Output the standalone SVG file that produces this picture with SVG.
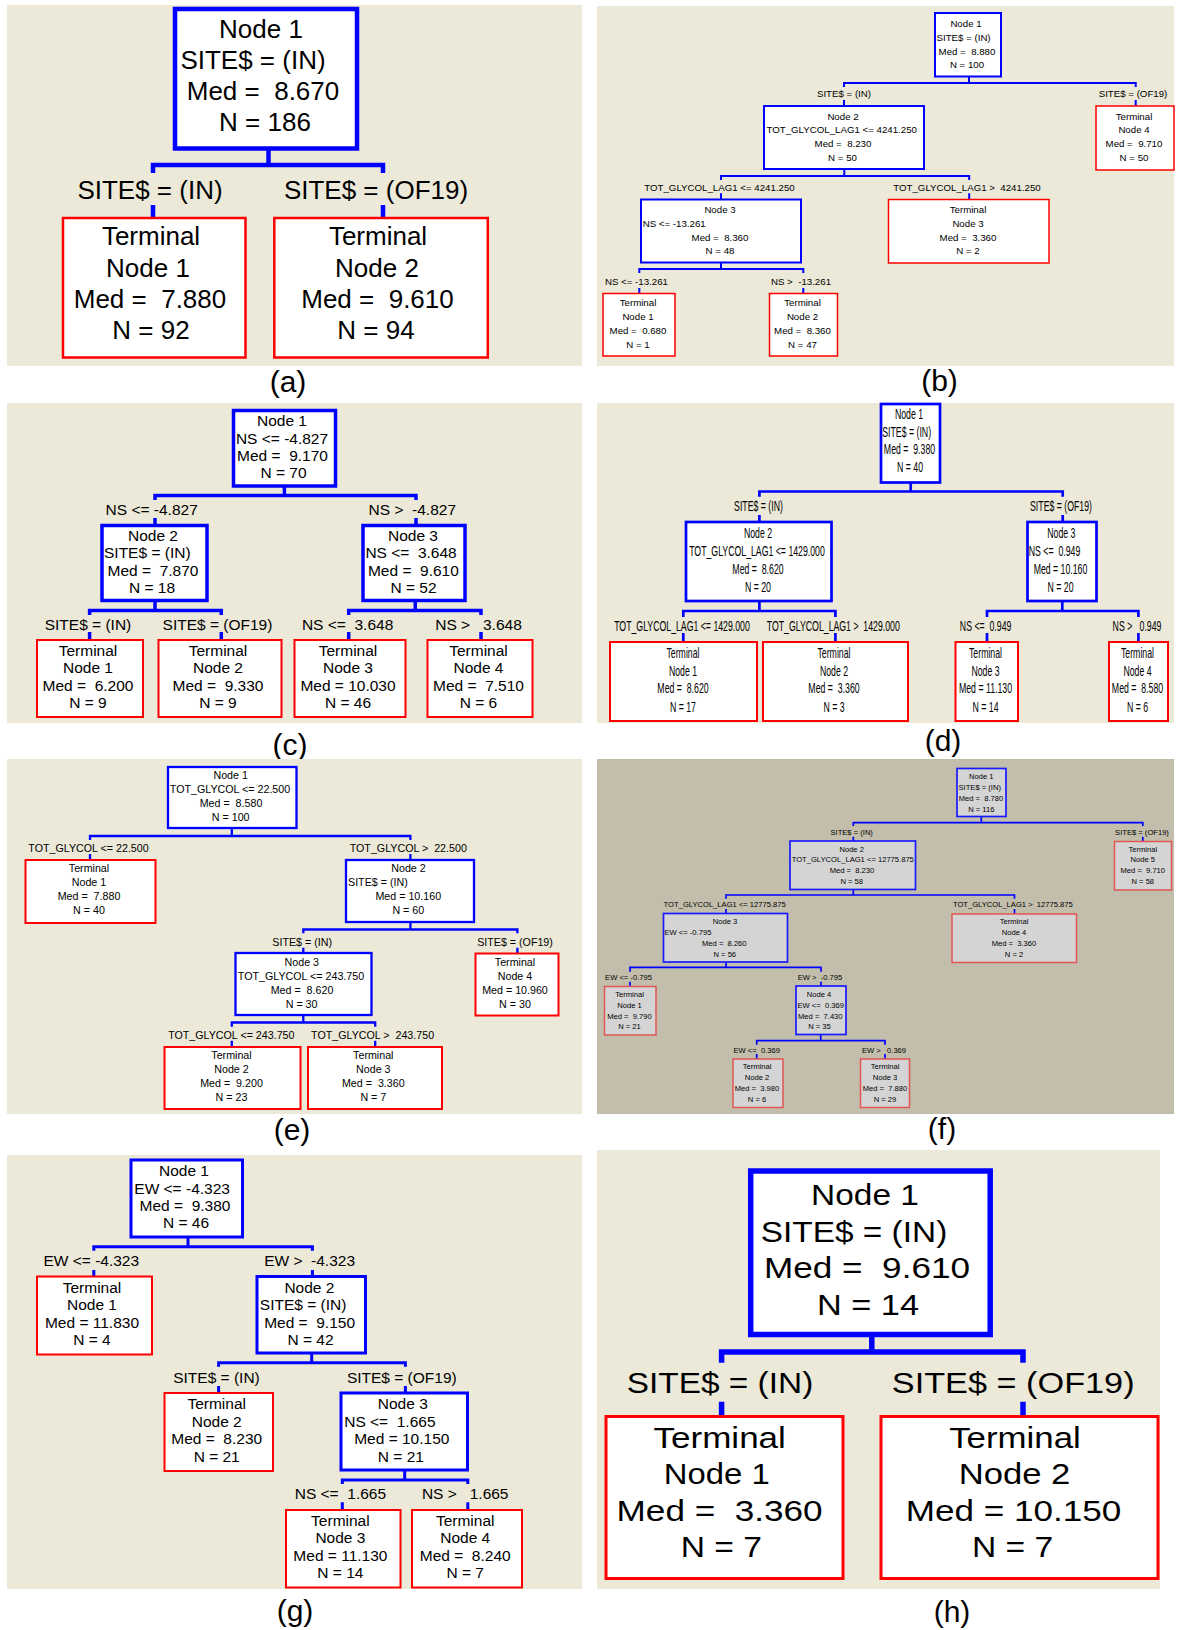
<svg xmlns="http://www.w3.org/2000/svg" width="1177" height="1630" viewBox="0 0 1177 1630" xml:space="preserve">
<style>
text{font-family:"Liberation Sans",Arial,sans-serif;fill:#000;white-space:pre}
.m{text-anchor:middle}
.bg{fill:#ece9d8}
.bgf{fill:#c2beab}
.n{fill:#fff;stroke:#0000ff}
.t{fill:#fff;stroke:#ff0000}
.nf{fill:#d4d4d4;stroke:#1a1aff;stroke-width:1.7}
.tf{fill:#d4d4d4;stroke:#e25555;stroke-width:1.5}
.c{fill:none;stroke:#0000ff}
.cap{font-size:30px;text-anchor:middle}
.fa{font-size:26px}.fb{font-size:9.7px}.fc{font-size:15.5px}.fd{font-size:14px}.fe{font-size:10.7px}.ff{font-size:7.6px}.fg{font-size:15.5px}.fh{font-size:29px}
</style>
<rect width="1177" height="1630" fill="#fff"/>

<!-- ===== Panel (a) ===== -->
<g id="panel-a" class="fa">
<rect class="bg" x="7" y="5" width="575" height="361"/>
<g id="a-connectors">
<path class="c" stroke-width="4.5" d="M268.5 150 V165 M153 173 V165 H383 V173 M153 205 V217 M383 205 V217"/>
<text class="m" x="150" y="199">SITE$ = (IN)</text>
<text class="m" x="376" y="199">SITE$ = (OF19)</text>
</g>
<g id="a-node1"><rect class="n" stroke-width="4.5" x="175" y="9" width="182" height="139.5"/>
<text class="m" x="261" y="37.5">Node 1</text><text class="m" x="253" y="69">SITE$ = (IN)</text><text class="m" x="263" y="100">Med =  8.670</text><text class="m" x="265" y="131">N = 186</text></g>
<g id="a-term1"><rect class="t" stroke-width="2.5" x="63" y="218" width="182.5" height="139.5"/>
<text class="m" x="151" y="245">Terminal</text><text class="m" x="148" y="276.5">Node 1</text><text class="m" x="150" y="307.5">Med =  7.880</text><text class="m" x="151" y="338.5">N = 92</text></g>
<g id="a-term2"><rect class="t" stroke-width="2.5" x="274.3" y="218" width="213.5" height="139.5"/>
<text class="m" x="378" y="245">Terminal</text><text class="m" x="377" y="276.5">Node 2</text><text class="m" x="377.5" y="307.5">Med =  9.610</text><text class="m" x="376" y="338.5">N = 94</text></g>
<text class="cap" x="288" y="392">(a)</text>
</g>

<!-- ===== Panel (b) ===== -->
<g id="panel-b" class="fb">
<rect class="bg" x="597" y="6" width="577" height="360"/>
<g id="b-connectors">
<path class="c" stroke-width="2" d="M969 77 V83 M844 87 V83 H1135.7 V87 M844 100 V106 M1135.7 100 V106 M844.3 169 V176 M721 180 V176 H969.2 V180 M721 193.3 V199.5 M969.2 193.3 V199.5 M721 262.7 V269 M639.3 273 V269 H803.3 V273 M639.3 288 V293.5 M803.3 288 V293.5"/>
<text class="m" x="844" y="96.5">SITE$ = (IN)</text>
<text class="m" x="1133" y="96.5">SITE$ = (OF19)</text>
<text class="m" x="719.5" y="191">TOT_GLYCOL_LAG1 &lt;= 4241.250</text>
<text class="m" x="967" y="191">TOT_GLYCOL_LAG1 &gt;  4241.250</text>
<text class="m" x="636.4" y="284.5">NS &lt;= -13.261</text>
<text class="m" x="801" y="284.5">NS &gt;  -13.261</text>
</g>
<g id="b-node1"><rect class="n" stroke-width="2" x="935" y="13" width="66" height="63.5"/>
<text class="m" x="966" y="26.5">Node 1</text><text x="936.5" y="40.5">SITE$ = (IN)</text><text class="m" x="967" y="54.5">Med =  8.880</text><text class="m" x="967" y="68">N = 100</text></g>
<g id="b-node2"><rect class="n" stroke-width="2" x="764" y="106" width="160" height="63"/>
<text class="m" x="843" y="119.5">Node 2</text><text x="766.5" y="133">TOT_GLYCOL_LAG1 &lt;= 4241.250</text><text class="m" x="843" y="147">Med =  8.230</text><text class="m" x="842.5" y="160.5">N = 50</text></g>
<g id="b-term4"><rect class="t" stroke-width="1.5" x="1096" y="106" width="78" height="64"/>
<text class="m" x="1134" y="119.5">Terminal</text><text class="m" x="1134" y="133">Node 4</text><text class="m" x="1134" y="147">Med =  9.710</text><text class="m" x="1134" y="160.5">N = 50</text></g>
<g id="b-node3"><rect class="n" stroke-width="2" x="641" y="199.5" width="160" height="63"/>
<text class="m" x="720" y="212.5">Node 3</text><text x="642.7" y="226.5">NS &lt;= -13.261</text><text class="m" x="720" y="240.5">Med =  8.360</text><text class="m" x="720" y="254">N = 48</text></g>
<g id="b-term3"><rect class="t" stroke-width="1.5" x="888.5" y="199.5" width="160.5" height="63.5"/>
<text class="m" x="968" y="212.5">Terminal</text><text class="m" x="968" y="226.5">Node 3</text><text class="m" x="968" y="240.5">Med =  3.360</text><text class="m" x="968" y="254">N = 2</text></g>
<g id="b-term1"><rect class="t" stroke-width="1.5" x="603" y="293.5" width="72" height="62.5"/>
<text class="m" x="638" y="305.5">Terminal</text><text class="m" x="638" y="319.5">Node 1</text><text class="m" x="638" y="333.5">Med =  0.680</text><text class="m" x="638" y="347.5">N = 1</text></g>
<g id="b-term2"><rect class="t" stroke-width="1.5" x="769.5" y="293.5" width="68" height="62.5"/>
<text class="m" x="802.5" y="305.5">Terminal</text><text class="m" x="802.5" y="319.5">Node 2</text><text class="m" x="802.5" y="333.5">Med =  8.360</text><text class="m" x="802.5" y="347.5">N = 47</text></g>
<text class="cap" x="939.5" y="391">(b)</text>
</g>

<!-- ===== Panel (c) ===== -->
<g id="panel-c" class="fc">
<rect class="bg" x="7" y="403" width="575" height="320"/>
<g id="c-connectors">
<path class="c" stroke-width="3.5" d="M284.4 487 V495.5 M155 500 V495.5 H416 V500 M155 518 V524 M416 518 V524 M155 602 V610.5 M89.6 615 V610.5 H221.3 V615 M89.6 632 V640 M221.3 632 V640 M415.3 602 V610.5 M348.7 615 V610.5 H481 V615 M348.7 632 V640 M481 632 V640"/>
<text class="m" x="151.7" y="515">NS &lt;= -4.827</text>
<text class="m" x="412.3" y="515">NS &gt;  -4.827</text>
<text class="m" x="88" y="629.5">SITE$ = (IN)</text>
<text class="m" x="217.5" y="629.5">SITE$ = (OF19)</text>
<text class="m" x="347.6" y="629.5">NS &lt;=  3.648</text>
<text class="m" x="478.5" y="629.5">NS &gt;   3.648</text>
</g>
<g id="c-node1"><rect class="n" stroke-width="3.5" x="233.5" y="410.5" width="102" height="75.5"/>
<text class="m" x="282" y="426.2">Node 1</text><text class="m" x="282" y="443.5">NS &lt;= -4.827</text><text class="m" x="282.5" y="460.8">Med =  9.170</text><text class="m" x="283.5" y="478.2">N = 70</text></g>
<g id="c-node2"><rect class="n" stroke-width="3.5" x="102" y="525.5" width="105" height="75"/>
<text class="m" x="153" y="540.8">Node 2</text><text x="104" y="558.2">SITE$ = (IN)</text><text class="m" x="153" y="575.5">Med =  7.870</text><text class="m" x="152" y="592.8">N = 18</text></g>
<g id="c-node3"><rect class="n" stroke-width="3.5" x="363" y="525.5" width="102" height="75"/>
<text class="m" x="413" y="540.8">Node 3</text><text x="365.4" y="558.2">NS &lt;=  3.648</text><text class="m" x="413.4" y="575.5">Med =  9.610</text><text class="m" x="413.5" y="592.8">N = 52</text></g>
<g id="c-term1"><rect class="t" stroke-width="2" x="37" y="640" width="106" height="77"/>
<text class="m" x="88" y="656.2">Terminal</text><text class="m" x="88" y="673.2">Node 1</text><text class="m" x="88" y="690.5">Med =  6.200</text><text class="m" x="88" y="707.5">N = 9</text></g>
<g id="c-term2"><rect class="t" stroke-width="2" x="158.5" y="640" width="123" height="77"/>
<text class="m" x="218" y="656.2">Terminal</text><text class="m" x="218" y="673.2">Node 2</text><text class="m" x="218" y="690.5">Med =  9.330</text><text class="m" x="218" y="707.5">N = 9</text></g>
<g id="c-term3"><rect class="t" stroke-width="2" x="294.5" y="640" width="111" height="77"/>
<text class="m" x="348" y="656.2">Terminal</text><text class="m" x="348" y="673.2">Node 3</text><text class="m" x="348" y="690.5">Med = 10.030</text><text class="m" x="348" y="707.5">N = 46</text></g>
<g id="c-term4"><rect class="t" stroke-width="2" x="427.5" y="640" width="105" height="77"/>
<text class="m" x="478.5" y="656.2">Terminal</text><text class="m" x="478.5" y="673.2">Node 4</text><text class="m" x="478.5" y="690.5">Med =  7.510</text><text class="m" x="478.5" y="707.5">N = 6</text></g>
<text class="cap" x="290" y="754.5">(c)</text>
</g>

<!-- ===== Panel (d) : narrow text, drawn with a horizontal scale of 0.625 (x values below are x/0.625) ===== -->
<g id="panel-d" class="fd">
<rect class="bg" x="597" y="403" width="577" height="320"/>
<g id="d-connectors">
<path class="c" stroke-width="2.7" d="M910.7 483 V491.5 M759.4 496.7 V491.5 H1062.7 V496.7 M759.4 515 V521 M1062.7 515 V521 M759.4 601.5 V611 M683.3 617 V611 H835.4 V617 M683.3 633 V641 M835.4 633 V641 M1062.3 601.5 V611 M987 617 V611 H1138.4 V617 M987 633 V641 M1138.4 633 V641"/>
<g transform="scale(0.625 1)">
<text class="m" x="1213.6" y="511.5">SITE$ = (IN)</text>
<text class="m" x="1697.6" y="511.5">SITE$ = (OF19)</text>
<text class="m" x="1091.2" y="631.5">TOT_GLYCOL_LAG1 &lt;= 1429.000</text>
<text class="m" x="1333.3" y="631.5">TOT_GLYCOL_LAG1 &gt;  1429.000</text>
<text class="m" x="1577" y="631.5">NS &lt;=  0.949</text>
<text class="m" x="1819.2" y="631.5">NS &gt;   0.949</text>
</g>
</g>
<g id="d-node1"><rect class="n" stroke-width="2.7" x="881" y="404" width="59" height="78.5"/>
<g transform="scale(0.625 1)"><text class="m" x="1454.4" y="419">Node 1</text><text class="m" x="1450.7" y="436.7">SITE$ = (IN)</text><text class="m" x="1455.2" y="454.3">Med =  9.380</text><text class="m" x="1456" y="472.3">N = 40</text></g></g>
<g id="d-node2"><rect class="n" stroke-width="2.7" x="686" y="522" width="145.5" height="79"/>
<g transform="scale(0.625 1)"><text class="m" x="1212.8" y="537.7">Node 2</text><text class="m" x="1211.2" y="556">TOT_GLYCOL_LAG1 &lt;= 1429.000</text><text class="m" x="1212.8" y="574">Med =  8.620</text><text class="m" x="1212.8" y="592">N = 20</text></g></g>
<g id="d-node3"><rect class="n" stroke-width="2.7" x="1027.5" y="522" width="69" height="79"/>
<g transform="scale(0.625 1)"><text class="m" x="1698.2" y="537.7">Node 3</text><text x="1646.1" y="556">NS &lt;=  0.949</text><text class="m" x="1696.8" y="574">Med = 10.160</text><text class="m" x="1696.8" y="592">N = 20</text></g></g>
<g id="d-term1"><rect class="t" stroke-width="2" x="610" y="642" width="147" height="79"/>
<g transform="scale(0.625 1)"><text class="m" x="1092.8" y="657.7">Terminal</text><text class="m" x="1092.8" y="675.7">Node 1</text><text class="m" x="1092.8" y="693.3">Med =  8.620</text><text class="m" x="1092.8" y="711.7">N = 17</text></g></g>
<g id="d-term2"><rect class="t" stroke-width="2" x="763" y="642" width="145" height="79"/>
<g transform="scale(0.625 1)"><text class="m" x="1334.4" y="657.7">Terminal</text><text class="m" x="1334.4" y="675.7">Node 2</text><text class="m" x="1334.4" y="693.3">Med =  3.360</text><text class="m" x="1334.4" y="711.7">N = 3</text></g></g>
<g id="d-term3"><rect class="t" stroke-width="2" x="955.5" y="642" width="62.5" height="79"/>
<g transform="scale(0.625 1)"><text class="m" x="1576.8" y="657.7">Terminal</text><text class="m" x="1576.8" y="675.7">Node 3</text><text class="m" x="1576.8" y="693.3">Med = 11.130</text><text class="m" x="1576.8" y="711.7">N = 14</text></g></g>
<g id="d-term4"><rect class="t" stroke-width="2" x="1109" y="642" width="59" height="79"/>
<g transform="scale(0.625 1)"><text class="m" x="1820" y="657.7">Terminal</text><text class="m" x="1820" y="675.7">Node 4</text><text class="m" x="1820" y="693.3">Med =  8.580</text><text class="m" x="1820" y="711.7">N = 6</text></g></g>
<text class="cap" x="943" y="751">(d)</text>
</g>

<!-- ===== Panel (e) ===== -->
<g id="panel-e" class="fe">
<rect class="bg" x="7" y="759" width="575" height="355"/>
<g id="e-connectors">
<path class="c" stroke-width="2.3" d="M231.8 829 V836 M90 840 V836 H410.4 V840 M90 854 V860 M410.4 854 V860 M410.4 922.5 V929.5 M303.3 933.3 V929.5 H517.4 V933.3 M303.3 947.7 V953 M517.4 947.7 V953.5 M303.3 1015.5 V1022.5 M231.8 1026.7 V1022.5 H375.2 V1026.7 M231.8 1040.7 V1047 M375.2 1040.7 V1047"/>
<text class="m" x="88.5" y="852">TOT_GLYCOL &lt;= 22.500</text>
<text class="m" x="408.3" y="852">TOT_GLYCOL &gt;  22.500</text>
<text class="m" x="302.2" y="945.5">SITE$ = (IN)</text>
<text class="m" x="515" y="945.5">SITE$ = (OF19)</text>
<text class="m" x="231.3" y="1039">TOT_GLYCOL &lt;= 243.750</text>
<text class="m" x="372.6" y="1039">TOT_GLYCOL &gt;  243.750</text>
</g>
<g id="e-node1"><rect class="n" stroke-width="2.3" x="168" y="767" width="128.5" height="61"/>
<text class="m" x="230.7" y="779">Node 1</text><text class="m" x="230" y="793">TOT_GLYCOL &lt;= 22.500</text><text class="m" x="231" y="807">Med =  8.580</text><text class="m" x="230.7" y="821">N = 100</text></g>
<g id="e-term1"><rect class="t" stroke-width="2" x="25.5" y="860" width="130" height="63"/>
<text class="m" x="89" y="872.3">Terminal</text><text class="m" x="89" y="886.3">Node 1</text><text class="m" x="89" y="900.3">Med =  7.880</text><text class="m" x="89" y="914.3">N = 40</text></g>
<g id="e-node2"><rect class="n" stroke-width="2.3" x="346" y="860" width="128" height="62"/>
<text class="m" x="408.5" y="872.3">Node 2</text><text x="348" y="886.3">SITE$ = (IN)</text><text class="m" x="408.3" y="900.3">Med = 10.160</text><text class="m" x="408.3" y="914.3">N = 60</text></g>
<g id="e-node3"><rect class="n" stroke-width="2.3" x="235.5" y="953" width="136" height="62"/>
<text class="m" x="301.8" y="965.7">Node 3</text><text class="m" x="301" y="979.7">TOT_GLYCOL &lt;= 243.750</text><text class="m" x="302" y="993.7">Med =  8.620</text><text class="m" x="301.6" y="1007.7">N = 30</text></g>
<g id="e-term4"><rect class="t" stroke-width="2" x="475.5" y="953.5" width="83" height="62"/>
<text class="m" x="515" y="965.7">Terminal</text><text class="m" x="515" y="979.7">Node 4</text><text class="m" x="515" y="993.7">Med = 10.960</text><text class="m" x="515" y="1007.7">N = 30</text></g>
<g id="e-term2"><rect class="t" stroke-width="2" x="164.5" y="1047" width="136" height="62"/>
<text class="m" x="231.5" y="1059">Terminal</text><text class="m" x="231.5" y="1073">Node 2</text><text class="m" x="231.5" y="1087">Med =  9.200</text><text class="m" x="231.5" y="1101">N = 23</text></g>
<g id="e-term3"><rect class="t" stroke-width="2" x="308" y="1047" width="134" height="62"/>
<text class="m" x="373.3" y="1059">Terminal</text><text class="m" x="373.3" y="1073">Node 3</text><text class="m" x="373.3" y="1087">Med =  3.360</text><text class="m" x="373.3" y="1101">N = 7</text></g>
<text class="cap" x="292" y="1140">(e)</text>
</g>

<!-- ===== Panel (f) ===== -->
<g id="panel-f" class="ff">
<rect class="bgf" x="597" y="759" width="577" height="355"/>
<g id="f-connectors">
<path class="c" stroke-width="1.7" d="M981.3 817 V822.7 M853.3 826 V822.7 H1142.8 V826 M853.3 836.7 V841 M1142.8 836.7 V841.5 M853.3 889.5 V895 M726 898.7 V895 H1014.5 V898.7 M726 909 V913.5 M1014.5 909 V914 M726 962 V967.3 M630 971.7 V967.3 H821 V971.7 M630 981.7 V986.5 M821 981.7 V986 M820.7 1034.5 V1040.7 M756.7 1044.7 V1040.7 H885 V1044.7 M756.7 1054 V1059 M885 1054 V1059"/>
<text class="m" x="851.7" y="834.5">SITE$ = (IN)</text>
<text class="m" x="1142" y="834.5">SITE$ = (OF19)</text>
<text class="m" x="724.7" y="907">TOT_GLYCOL_LAG1 &lt;= 12775.875</text>
<text class="m" x="1012.8" y="907">TOT_GLYCOL_LAG1 &gt;  12775.875</text>
<text class="m" x="628.5" y="980">EW &lt;= -0.795</text>
<text class="m" x="820" y="980">EW &gt;  -0.795</text>
<text class="m" x="756.7" y="1052.5">EW &lt;=  0.369</text>
<text class="m" x="884" y="1052.5">EW &gt;   0.369</text>
</g>
<g id="f-node1"><rect class="nf" x="957" y="768.5" width="49" height="48"/>
<text class="m" x="981.3" y="779">Node 1</text><text x="958.5" y="790">SITE$ = (IN)</text><text class="m" x="981" y="801">Med =  8.780</text><text class="m" x="981.3" y="811.5">N = 116</text></g>
<g id="f-term5"><rect class="tf" x="1114.5" y="841.5" width="57" height="48.5"/>
<text class="m" x="1142.8" y="851.5">Terminal</text><text class="m" x="1142.8" y="862">Node 5</text><text class="m" x="1142.8" y="873">Med =  9.710</text><text class="m" x="1142.8" y="884">N = 58</text></g>
<g id="f-node2"><rect class="nf" x="790" y="841" width="125.5" height="48.5"/>
<text class="m" x="851.7" y="851.5">Node 2</text><text x="791.7" y="862">TOT_GLYCOL_LAG1 &lt;= 12775.875</text><text class="m" x="852" y="873">Med =  8.230</text><text class="m" x="851.7" y="884">N = 58</text></g>
<g id="f-node3"><rect class="nf" x="663.5" y="913.5" width="124" height="48.5"/>
<text class="m" x="725" y="924">Node 3</text><text x="664.5" y="935">EW &lt;= -0.795</text><text class="m" x="724.3" y="946">Med =  8.260</text><text class="m" x="724.8" y="957">N = 56</text></g>
<g id="f-term4"><rect class="tf" x="952" y="914" width="124.5" height="48.5"/>
<text class="m" x="1014" y="924">Terminal</text><text class="m" x="1014" y="935">Node 4</text><text class="m" x="1014" y="946">Med =  3.360</text><text class="m" x="1014" y="957">N = 2</text></g>
<g id="f-term1"><rect class="tf" x="604.5" y="986.5" width="51.5" height="48.5"/>
<text class="m" x="629.5" y="997">Terminal</text><text class="m" x="629.5" y="1007.5">Node 1</text><text class="m" x="629.5" y="1018.5">Med =  9.790</text><text class="m" x="629.5" y="1029">N = 21</text></g>
<g id="f-node4"><rect class="nf" x="796" y="986" width="50" height="48.5"/>
<text class="m" x="819" y="997">Node 4</text><text x="797.5" y="1007.5">EW &lt;=  0.369</text><text class="m" x="820.3" y="1018.5">Med =  7.430</text><text class="m" x="819.5" y="1029">N = 35</text></g>
<g id="f-term2"><rect class="tf" x="733" y="1059" width="50" height="48.5"/>
<text class="m" x="757" y="1069">Terminal</text><text class="m" x="757" y="1080">Node 2</text><text class="m" x="757" y="1091">Med =  3.980</text><text class="m" x="757" y="1102">N = 6</text></g>
<g id="f-term3"><rect class="tf" x="860.5" y="1059" width="49" height="48.5"/>
<text class="m" x="885" y="1069">Terminal</text><text class="m" x="885" y="1080">Node 3</text><text class="m" x="885" y="1091">Med =  7.880</text><text class="m" x="885" y="1102">N = 29</text></g>
<text class="cap" x="942" y="1139">(f)</text>
</g>

<!-- ===== Panel (g) ===== -->
<g id="panel-g" class="fg">
<rect class="bg" x="7" y="1155" width="575" height="434"/>
<g id="g-connectors">
<path class="c" stroke-width="3" d="M188 1237.5 V1246.7 M93.8 1250.7 V1246.7 H312.4 V1250.7 M93.8 1270 V1276.5 M312.4 1270 V1276.5 M311.7 1353 V1362.7 M218.6 1366.7 V1362.7 H405.4 V1366.7 M218.6 1386 V1393 M405.4 1386 V1393 M404.7 1470 V1480 M342.3 1484 V1480 H467.8 V1484 M342.3 1502.3 V1510 M467.8 1502.3 V1510"/>
<text class="m" x="91.3" y="1266">EW &lt;= -4.323</text>
<text class="m" x="309.6" y="1266">EW &gt;  -4.323</text>
<text class="m" x="216.5" y="1382.5">SITE$ = (IN)</text>
<text class="m" x="401.8" y="1382.5">SITE$ = (OF19)</text>
<text class="m" x="340.4" y="1499">NS &lt;=  1.665</text>
<text class="m" x="465.2" y="1499">NS &gt;   1.665</text>
</g>
<g id="g-node1"><rect class="n" stroke-width="3" x="131" y="1160" width="111.5" height="77"/>
<text class="m" x="184" y="1176.2">Node 1</text><text x="134.3" y="1193.5">EW &lt;= -4.323</text><text class="m" x="185" y="1210.8">Med =  9.380</text><text class="m" x="186" y="1228.2">N = 46</text></g>
<g id="g-term1"><rect class="t" stroke-width="2" x="37" y="1276.5" width="115" height="78"/>
<text class="m" x="92" y="1292.5">Terminal</text><text class="m" x="92" y="1309.8">Node 1</text><text class="m" x="92" y="1327.5">Med = 11.830</text><text class="m" x="92" y="1344.8">N = 4</text></g>
<g id="g-node2"><rect class="n" stroke-width="3" x="257" y="1276.5" width="108.5" height="76.5"/>
<text class="m" x="309.4" y="1292.5">Node 2</text><text x="259.8" y="1309.8">SITE$ = (IN)</text><text class="m" x="309.6" y="1327.5">Med =  9.150</text><text class="m" x="310.5" y="1344.8">N = 42</text></g>
<g id="g-term2"><rect class="t" stroke-width="2" x="164.5" y="1393" width="108.5" height="78"/>
<text class="m" x="216.7" y="1409.2">Terminal</text><text class="m" x="216.7" y="1426.5">Node 2</text><text class="m" x="216.7" y="1444.2">Med =  8.230</text><text class="m" x="216.7" y="1461.5">N = 21</text></g>
<g id="g-node3"><rect class="n" stroke-width="3" x="341" y="1393" width="126.5" height="77"/>
<text class="m" x="402.8" y="1409.2">Node 3</text><text x="344.2" y="1426.5">NS &lt;=  1.665</text><text class="m" x="401.8" y="1444.2">Med = 10.150</text><text class="m" x="400.9" y="1461.5">N = 21</text></g>
<g id="g-term3"><rect class="t" stroke-width="2" x="286" y="1510" width="114.5" height="77.5"/>
<text class="m" x="340.4" y="1525.8">Terminal</text><text class="m" x="340.4" y="1543.2">Node 3</text><text class="m" x="340.4" y="1560.8">Med = 11.130</text><text class="m" x="340.4" y="1578.2">N = 14</text></g>
<g id="g-term4"><rect class="t" stroke-width="2" x="412" y="1510" width="110" height="77.5"/>
<text class="m" x="465.2" y="1525.8">Terminal</text><text class="m" x="465.2" y="1543.2">Node 4</text><text class="m" x="465.2" y="1560.8">Med =  8.240</text><text class="m" x="465.2" y="1578.2">N = 7</text></g>
<text class="cap" x="295" y="1621">(g)</text>
</g>

<!-- ===== Panel (h) ===== -->
<g id="panel-h" class="fh">
<rect class="bg" x="597" y="1150" width="563" height="439"/>
<g id="h-connectors">
<path class="c" stroke-width="5.5" d="M871.8 1337 V1352 M721.6 1362.7 V1352 H1023 V1362.7 M721.6 1401.7 V1415 M1023 1401.7 V1415"/>
<text class="m" x="720" y="1393.3" textLength="186.5" lengthAdjust="spacingAndGlyphs">SITE$ = (IN)</text>
<text class="m" x="1013.2" y="1393.3" textLength="242.8" lengthAdjust="spacingAndGlyphs">SITE$ = (OF19)</text>
</g>
<g id="h-node1"><rect class="n" stroke-width="5.5" x="750.7" y="1171" width="239.5" height="163.5"/>
<text class="m" x="865" y="1205" textLength="107.8" lengthAdjust="spacingAndGlyphs">Node 1</text><text class="m" x="854" y="1241.7" textLength="186.5" lengthAdjust="spacingAndGlyphs">SITE$ = (IN)</text><text class="m" x="867" y="1278.3" textLength="206" lengthAdjust="spacingAndGlyphs">Med =  9.610</text><text class="m" x="868" y="1315" textLength="102" lengthAdjust="spacingAndGlyphs">N = 14</text></g>
<g id="h-term1"><rect class="t" stroke-width="3" x="606" y="1416.5" width="237" height="162"/>
<text class="m" x="719.7" y="1448.3" textLength="132.4" lengthAdjust="spacingAndGlyphs">Terminal</text><text class="m" x="716.8" y="1484" textLength="105.9" lengthAdjust="spacingAndGlyphs">Node 1</text><text class="m" x="719.6" y="1520.5" textLength="206" lengthAdjust="spacingAndGlyphs">Med =  3.360</text><text class="m" x="721.4" y="1557" textLength="81.3" lengthAdjust="spacingAndGlyphs">N = 7</text></g>
<g id="h-term2"><rect class="t" stroke-width="3" x="881" y="1416.5" width="277" height="162"/>
<text class="m" x="1015" y="1448.3" textLength="131.6" lengthAdjust="spacingAndGlyphs">Terminal</text><text class="m" x="1014.5" y="1484" textLength="111.6" lengthAdjust="spacingAndGlyphs">Node 2</text><text class="m" x="1013.6" y="1520.5" textLength="215.6" lengthAdjust="spacingAndGlyphs">Med = 10.150</text><text class="m" x="1012.6" y="1557" textLength="81.3" lengthAdjust="spacingAndGlyphs">N = 7</text></g>
<text class="cap" x="952" y="1622">(h)</text>
</g>
</svg>
